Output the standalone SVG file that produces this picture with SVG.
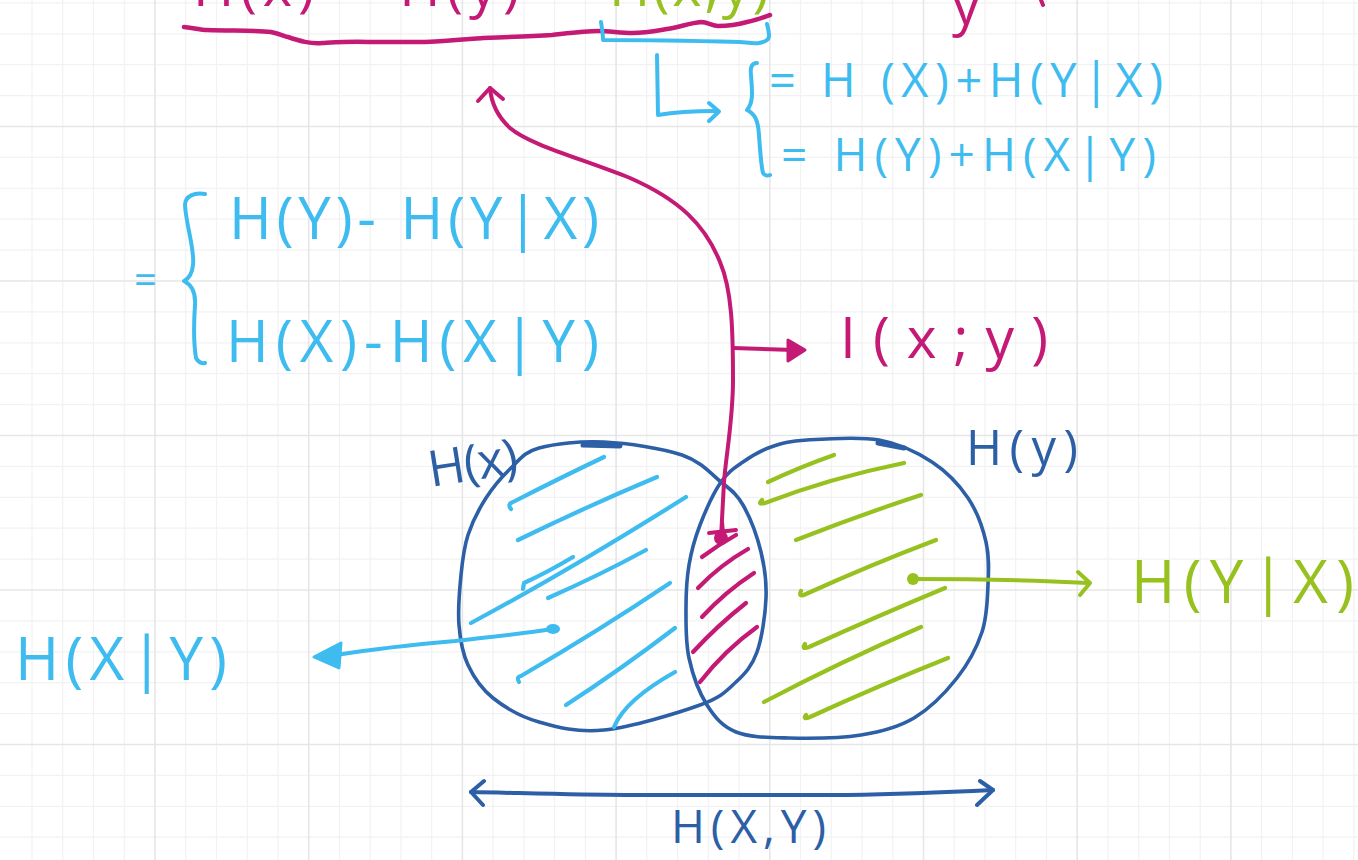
<svg xmlns="http://www.w3.org/2000/svg" width="1358" height="860" viewBox="0 0 1358 860">
<style>
.t{font-family:"Open Sans","Liberation Sans",sans-serif;}
.mg{fill:#c41a75}.lb{fill:#3fbcef}.gr{fill:#97c11f}.db{fill:#2c5fa6}
.s{fill:none;stroke-linecap:round;stroke-linejoin:round}
.smg{stroke:#c41a75}.slb{stroke:#3fbcef}.sgr{stroke:#97c11f}.sdb{stroke:#2c5fa6}
</style>
<rect width="1358" height="860" fill="#ffffff"/>
<g id="grid" fill="none">
<path stroke="#f2f2f2" stroke-width="1.2" d="M32,0V860M62.8,0V860M93.5,0V860M124.3,0V860M185.7,0V860M216.5,0V860M247.2,0V860M278,0V860M339.4,0V860M370.2,0V860M400.9,0V860M431.7,0V860M493.1,0V860M523.9,0V860M554.6,0V860M585.4,0V860M646.8,0V860M677.6,0V860M708.3,0V860M739.1,0V860M800.5,0V860M831.3,0V860M862,0V860M892.8,0V860M954.2,0V860M985,0V860M1015.7,0V860M1046.5,0V860M1107.9,0V860M1138.7,0V860M1169.4,0V860M1200.2,0V860M1261.6,0V860M1292.4,0V860M1323.1,0V860M1353.9,0V860M0,2.9H1358M0,33.8H1358M0,64.7H1358M0,95.6H1358M0,157.4H1358M0,188.3H1358M0,219.2H1358M0,250.1H1358M0,311.9H1358M0,342.8H1358M0,373.7H1358M0,404.6H1358M0,466.4H1358M0,497.3H1358M0,528.2H1358M0,559.1H1358M0,620.9H1358M0,651.8H1358M0,682.7H1358M0,713.6H1358M0,775.4H1358M0,806.3H1358M0,837.2H1358"/>
<path stroke="#e6e6e6" stroke-width="1.6" d="M155,0V860M308.7,0V860M462.4,0V860M616.1,0V860M769.8,0V860M923.5,0V860M1077.2,0V860M1230.9,0V860M0,126.5H1358M0,281H1358M0,435.5H1358M0,590H1358M0,744.5H1358"/>
</g>

<g id="top-formula">
<text class="t mg" x="193" y="6" font-size="56" textLength="385" lengthAdjust="spacing">H(x) + H(y) −</text>
<text class="t gr" x="609" y="6" font-size="56" textLength="160" lengthAdjust="spacing">H(x,y)</text>
<text class="t mg" x="952" y="24" font-size="56">y</text>
<path class="s smg" stroke-width="4" d="M1041,0 L1043,5"/>
<path class="s smg" stroke-width="4.5" d="M184,27 C195,28 200,30 207,30 C230,31 255,30 271,32 C280,34 284,36 288,37 C300,41 310,44 322,43 C340,42 355,41 368,42 C390,42 410,42 425,42 C450,41 470,39 483,38 C510,37 535,36 552,35 C570,33 585,31 598,31 C610,31 620,33 632,33 C645,33 655,31 667,29 C680,27 690,23 701,22 C708,22 712,26 718,26 C730,26 740,24 747,22 C757,20 764,17 770,15"/>
<path class="s slb" stroke-width="4" d="M601,22 C602,28 603,34 603,40 C640,40 700,41 740,42 C750,43 756,44 759,43 C765,42 769,40 769,36 C769,32 768,28 767,24"/>
</g>

<g id="joint-entropy-formula">
<path class="s slb" stroke-width="4" d="M757,63 C752,63 750,67 751,75 C752,90 754,102 747,110 C755,114 758,120 759,135 C760,150 761,165 763,173 C765,176 768,176 770,175"/>
<text class="t lb" x="769" y="97" font-size="47" textLength="394" lengthAdjust="spacing">= H (X)+H(Y|X)</text>
<text class="t lb" x="781" y="171" font-size="46" textLength="375" lengthAdjust="spacing">= H(Y)+H(X|Y)</text>
</g>

<g id="mutual-info-formula">
<text class="t lb" x="134" y="294" font-size="40">=</text>
<path class="s slb" stroke-width="4" d="M205,194 C195,192 185,196 185,205 C186,225 195,250 193,265 C192,275 188,279 184,281 C190,284 196,290 195,305 C194,320 193,340 196,358 C198,362 202,364 205,363"/>
<text class="t lb" x="229" y="239" font-size="58" textLength="370" lengthAdjust="spacing">H(Y)- H(Y|X)</text>
<text class="t lb" x="226" y="362" font-size="58" textLength="373" lengthAdjust="spacing">H(X)-H(X|Y)</text>
</g>

<g id="label-I">
<text class="t mg" x="840" y="358" font-size="57" textLength="208" lengthAdjust="spacing">I(x;y)</text>
</g>

<g id="circle-Hx">
<path class="s sdb" stroke-width="3.6" d="M604,442 C627.8,443.2 662.5,448.3 682,455 C701.5,461.7 710.8,473.7 721,482 C731.2,490.3 736.3,493.3 743,505 C749.7,516.7 757.2,536.5 761,552 C764.8,567.5 766.7,581.3 766,598 C765.3,614.7 762,638 757,652 C752,666 745.5,673.2 736,682 C726.5,690.8 722,697 700,705 C678,713 630.8,727.2 604,730 C577.2,732.8 557.5,727.3 539,722 C520.5,716.7 504.8,707.5 493,698 C481.2,688.5 473.7,677.2 468,665 C462.3,652.8 460.2,640 459,625 C457.8,610 459.5,590 461,575 C462.5,560 463.8,547.8 468,535 C472.2,522.2 478.8,509.2 486,498 C493.2,486.8 502.2,476.3 511,468 C519.8,459.7 523.5,452.3 539,448 C554.5,443.7 580.2,440.8 604,442 Z"/>
<path class="s sdb" stroke-width="5" d="M583,445 L620,446"/>
<text class="t db" x="431" y="487" font-size="50" textLength="90" lengthAdjust="spacing" transform="rotate(-9 431 487)">H(x)</text>
</g>

<g id="circle-Hy">
<path class="s sdb" stroke-width="3.6" d="M807,440 C825,438.8 858.2,436.3 879,440 C899.8,443.7 917.2,452.3 932,462 C946.8,471.7 959,484.7 968,498 C977,511.3 982.7,527.5 986,542 C989.3,556.5 988.7,570 988,585 C987.3,600 987.2,616.5 982,632 C976.8,647.5 968.3,663.7 957,678 C945.7,692.3 930,708.5 914,718 C898,727.5 881.8,731.7 861,735 C840.2,738.3 809.8,738.5 789,738 C768.2,737.5 749.7,737.5 736,732 C722.3,726.5 714.8,717.3 707,705 C699.2,692.7 692.5,674.2 689,658 C685.5,641.8 686,623.5 686,608 C686,592.5 686.7,578.8 689,565 C691.3,551.2 694.7,538.8 700,525 C705.3,511.2 713.8,492.5 721,482 C728.2,471.5 734.7,467.8 743,462 C751.3,456.2 760.3,450.7 771,447 C781.7,443.3 789,441.2 807,440 Z"/>
<path class="s sdb" stroke-width="5" d="M878,443 L904,448"/>
<text class="t db" x="966" y="465" font-size="49" textLength="112" lengthAdjust="spacing">H(y)</text>
</g>

<g id="hatch-HxGy" class="s slb" stroke-width="4.2">
<path d="M511,509 Q507,504 513,502 Q560,478 604,457"/>
<path d="M518,540 Q590,505 657,477"/>
<path d="M523,589 L524,583 Q548,572 573,557"/>
<path d="M471,623 Q570,570 686,497"/>
<path d="M548,598 Q600,575 646,550"/>
<path d="M519,682 Q516,677 521,676 Q600,630 670,583"/>
<path d="M566,705 Q620,670 675,628"/>
<path d="M614,727 Q625,700 675,672"/>
</g>

<g id="hatch-I" class="s smg" stroke-width="4.2">
<path d="M702,557 Q718,545 736,535"/>
<path d="M698,588 Q720,565 748,549"/>
<path d="M702,617 Q725,592 754,573"/>
<path d="M693,652 Q718,625 746,603"/>
<path d="M700,682 Q725,650 757,627"/>
</g>

<g id="hatch-HyGx" class="s sgr" stroke-width="4.2">
<path d="M768,482 Q800,467 834,455"/>
<path d="M762,500 Q757,505 765,503 Q830,478 904,463"/>
<path d="M796,540 Q860,515 921,495"/>
<path d="M801,591 Q798,598 806,594 Q870,565 936,540"/>
<path d="M805,644 Q801,650 809,647 Q880,615 945,588"/>
<path d="M764,702 Q840,662 921,627"/>
<path d="M806,715 Q802,720 810,717 Q880,685 948,658"/>
</g>

<g id="label-HxGy">
<text class="t lb" x="15" y="680" font-size="60" textLength="212" lengthAdjust="spacing">H(X|Y)</text>
</g>
<g id="label-HyGx">
<text class="t gr" x="1131" y="603" font-size="60" textLength="223" lengthAdjust="spacing">H(Y|X)</text>
</g>
<g id="label-Hxy">
<text class="t db" x="671" y="843" font-size="46" textLength="155" lengthAdjust="spacing">H(X,Y)</text>
</g>

<g id="connectors">
<g id="conn-I-to-top">
<circle cx="721" cy="538" r="7" fill="#c41a75"/>
<path class="s smg" stroke-width="4" d="M709,533 L736,530 M722,522 L723,533"/>
<path class="s smg" stroke-width="4" d="M721,538 L724,482 C726,455 733,420 733,380 C733,330 732,290 720,262 C705,225 680,200 630,178 C580,158 530,145 510,128 C496,115 491,100 490,88"/>
<path class="s smg" stroke-width="4" d="M478,101 L490,88 L503,99"/>
</g>
<g id="conn-I-label">
<path class="s smg" stroke-width="4" d="M733,348 L794,350"/>
<path class="smg" stroke-width="3" stroke-linejoin="round" fill="#c41a75" d="M788,340 L805,350 L788,361 Z"/>
</g>
<g id="conn-HxGy">
<ellipse cx="553" cy="629" rx="7" ry="5" fill="#3fbcef"/>
<path class="s slb" stroke-width="4" d="M553,629 C520,634 480,638 455,641 C420,644 380,648 336,655"/>
<path class="slb" stroke-width="3" stroke-linejoin="round" fill="#3fbcef" d="M314,657 L341,643 L339,668 Z"/>
</g>
<g id="conn-HyGx">
<circle cx="913" cy="579" r="6" fill="#97c11f"/>
<path class="s sgr" stroke-width="4" d="M913,579 C960,579 1030,580 1088,583"/>
<path class="s sgr" stroke-width="4" d="M1078,572 L1090,583 L1080,595"/>
</g>
<g id="conn-Hxy">
<path class="s sdb" stroke-width="4" d="M471,792 C520,793 580,795 625,795 L847,795 C900,794 950,792 993,790"/>
<path class="s sdb" stroke-width="4" d="M484,781 L471,792 L483,805 M980,781 L993,790 L977,805"/>
</g>
<g id="conn-joint">
<path class="s slb" stroke-width="4" d="M657,55 L658,115 C675,112 695,111 716,111"/>
<path class="s slb" stroke-width="4" d="M709,103 L719,111.5 L709,121"/>
</g>
</g>
</svg>
